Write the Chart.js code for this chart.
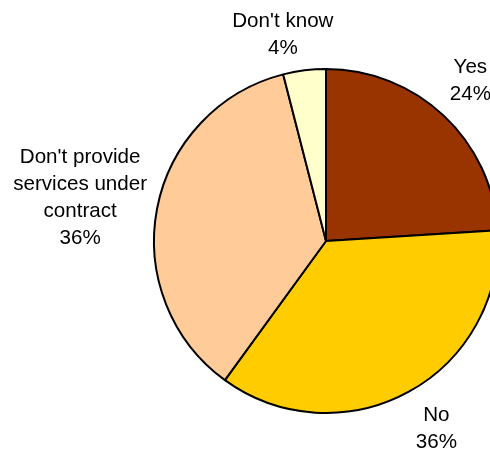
<!DOCTYPE html>
<html>
<head>
<meta charset="utf-8">
<script src="https://cdn.jsdelivr.net/npm/chart.js@4/dist/chart.umd.min.js"></script>
<style>
  html, body { margin: 0; padding: 0; background: #fff; }
  #wrap { width: 490px; height: 453px; }
</style>
</head>
<body>
<div id="wrap"><canvas id="pie" width="490" height="453"></canvas></div>
<script>
// ── Data ──
const categories = ['Yes', 'No', "Don't provide\nservices under\ncontract", "Don't know"];
const shares = [24, 36, 36, 4];
const sliceColors = ['#993300', '#FFCC00', '#FFCC99', '#FFFFCC'];

// label placement: distance from centre (in radii) and a small nudge per slice
const LABEL_DIST = 1.26;
const labelNudge = [[-4, -4], [6, -3.5], [-33, -4], [-16, 8]];
const LINE_H = 27;

// ── Plugin: slice labels outside the pie ──
const outsideLabels = {
  id: 'outsideLabels',
  afterDatasetsDraw(chart) {
    const ctx = chart.ctx;
    const arcs = chart.getDatasetMeta(0).data;
    ctx.save();
    ctx.font = '20.6px "Liberation Sans", Arial, sans-serif';
    ctx.fillStyle = '#000';
    ctx.textAlign = 'center';
    ctx.textBaseline = 'alphabetic';
    arcs.forEach((arc, i) => {
      const { x, y, startAngle, endAngle, outerRadius } = arc.getProps(
        ['x', 'y', 'startAngle', 'endAngle', 'outerRadius'], true);
      const mid = (startAngle + endAngle) / 2;
      const d = outerRadius * LABEL_DIST;
      const cx = x + Math.cos(mid) * d + labelNudge[i][0];
      const cy = y + Math.sin(mid) * d + labelNudge[i][1];
      const lines = categories[i].split('\n').concat([shares[i] + '%']);
      lines.forEach((txt, k) => {
        const by = cy + (k - (lines.length - 1) / 2) * LINE_H + 7;
        ctx.fillText(txt, cx, by);
      });
    });
    ctx.restore();
  }
};

new Chart(document.getElementById('pie'), {
  type: 'pie',
  data: {
    labels: categories,
    datasets: [{
      data: shares,
      backgroundColor: sliceColors,
      borderColor: '#000',
      borderWidth: 2,
      radius: 172
    }]
  },
  options: {
    responsive: false,
    animation: false,
    layout: { padding: { left: 162, right: 0, top: 29, bottom: 0 } },
    plugins: {
      legend: { display: false },
      tooltip: { enabled: false }
    }
  },
  plugins: [outsideLabels]
});
</script>
</body>
</html>
